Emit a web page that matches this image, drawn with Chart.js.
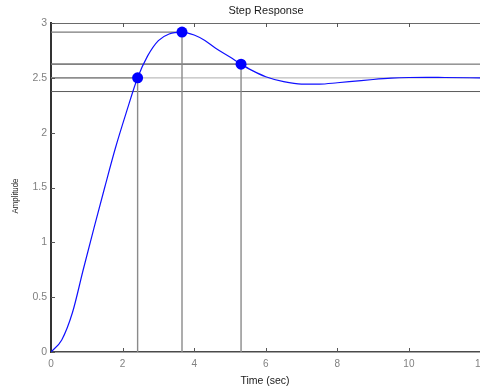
<!DOCTYPE html>
<html>
<head>
<meta charset="utf-8">
<script src="https://cdn.jsdelivr.net/npm/chart.js@4/dist/chart.umd.min.js"></script>
<style>
  html,body{margin:0;padding:0;background:#fff;overflow:hidden}
  canvas{display:block}
</style>
</head>
<body>
<canvas id="mychart" width="486" height="388"></canvas>
<script>
// step response
var time      = [0, 0.3, 0.6, 0.9, 1.2, 1.5, 1.8, 2.1, 2.42, 2.7, 3.0, 3.3, 3.66, 4.0, 4.3, 4.6, 5.0, 5.31, 5.6, 6.0, 6.5, 7.0, 7.5, 8.0, 8.5, 9.0, 9.5, 10.0, 10.5, 11.0, 12.0]
var amplitude = [0, 0.11, 0.36, 0.75, 1.13, 1.50, 1.86, 2.18, 2.50, 2.70, 2.84, 2.90, 2.917, 2.89, 2.84, 2.77, 2.69, 2.625, 2.57, 2.51, 2.465, 2.443, 2.443, 2.455, 2.47, 2.485, 2.497, 2.503, 2.505, 2.503, 2.50]

// rise time, peak, settling markers
var markerTime = [2.42, 3.66, 5.31]
var markerAmp  = [2.5, 2.917, 2.625]

var finalValue = 2.5
var bandUpper  = 2.625
var bandLower  = 2.375

var xTicks = [0, 2, 4, 6, 8, 10, 12]
var yTicks = [0, 0.5, 1, 1.5, 2, 2.5, 3]

var FONT = '"Liberation Sans", Arial, sans-serif'

var curve = []
for (var i = 0; i < time.length; i++) curve.push({x: time[i], y: amplitude[i]})

var markers = []
for (var i = 0; i < markerTime.length; i++) markers.push({x: markerTime[i], y: markerAmp[i]})

function seg(x1, y1, x2, y2, color, width, order){
  return {
    data: [{x: x1, y: y1}, {x: x2, y: y2}],
    showLine: true, borderColor: color, borderWidth: width,
    pointRadius: 0, order: order
  }
}

var datasets = [
  {data: markers, showLine: false, pointRadius: 5.5, pointHoverRadius: 5.5,
   backgroundColor: '#0000ff', borderColor: '#0000ff', borderWidth: 0, order: 0},
  {data: curve, showLine: true, borderColor: '#1010ff', borderWidth: 1.2,
   pointRadius: 0, cubicInterpolationMode: 'monotone', order: 1},
  seg(0, finalValue, 12, finalValue, '#bdbdbd', 1.3, 5),
  seg(0, bandUpper, 12, bandUpper, '#5a5a5a', 1, 4),
  seg(0, bandLower, 12, bandLower, '#5a5a5a', 1, 4)
]
for (var i = 0; i < markerTime.length; i++) {
  datasets.push(seg(0, markerAmp[i], markerTime[i], markerAmp[i], '#7a7a7a', 1.2, 3))
  datasets.push(seg(markerTime[i], 0, markerTime[i], markerAmp[i], '#8a8a8a', 1.4, 3))
}

var decor = {
  id: 'decor',
  afterDraw: function(chart){
    var ctx = chart.ctx, a = chart.chartArea
    var xs = chart.scales.x, ys = chart.scales.y
    ctx.save()
    // top border
    ctx.strokeStyle = '#6a6a6a'; ctx.lineWidth = 1
    ctx.beginPath(); ctx.moveTo(a.left, a.top + 0.5); ctx.lineTo(a.right, a.top + 0.5); ctx.stroke()
    // inward ticks
    ctx.strokeStyle = '#555'
    ctx.beginPath()
    xTicks.forEach(function(v){
      if (v === 0 || v === 12) return
      var px = Math.round(xs.getPixelForValue(v)) + 0.5
      ctx.moveTo(px, a.bottom); ctx.lineTo(px, a.bottom - 4)
      ctx.moveTo(px, a.top); ctx.lineTo(px, a.top + 4)
    })
    yTicks.forEach(function(v){
      var py = Math.round(ys.getPixelForValue(v)) + 0.5
      ctx.moveTo(a.left, py); ctx.lineTo(a.left + 4, py)
    })
    ctx.stroke()
    // texts
    ctx.fillStyle = '#1a1a1a'
    ctx.textAlign = 'center'; ctx.textBaseline = 'middle'
    ctx.font = '11px ' + FONT
    ctx.fillText('Step Response', 266, 11)
    ctx.font = '10.5px ' + FONT
    ctx.fillText('Time (sec)', 265, 381)
    ctx.translate(16, 196); ctx.rotate(-Math.PI / 2); ctx.scale(0.87, 1)
    ctx.font = '9px ' + FONT
    ctx.fillText('Amplitude', 0, 0)
    ctx.restore()
  }
}

var chart = new Chart(document.getElementById('mychart').getContext('2d'), {
  type: 'scatter',
  data: {datasets: datasets},
  options: {
    responsive: false,
    animation: false,
    events: [],
    layout: {padding: {top: 23, right: 3, left: 0, bottom: 0}},
    plugins: {legend: {display: false}, tooltip: {enabled: false}, title: {display: false}},
    scales: {
      x: {
        type: 'linear', min: 0, max: 12,
        afterBuildTicks: function(s){ s.ticks = xTicks.map(function(v){ return {value: v} }) },
        afterFit: function(s){ s.height = 36; s.paddingLeft = 0; s.paddingRight = 0 },
        ticks: {color: '#808080', font: {family: FONT, size: 10}, padding: 6, maxRotation: 0,
                callback: function(v){ return String(v) }},
        grid: {display: true, drawOnChartArea: false, drawTicks: false},
        border: {display: true, color: '#4a4a4a', width: 1.5}
      },
      y: {
        type: 'linear', min: 0, max: 3,
        afterBuildTicks: function(s){ s.ticks = yTicks.map(function(v){ return {value: v} }) },
        afterFit: function(s){ s.width = 51; s.paddingTop = 0; s.paddingBottom = 0 },
        ticks: {color: '#808080', font: {family: FONT, size: 10.5}, padding: 4,
                callback: function(v){ return String(v) }},
        grid: {display: true, drawOnChartArea: false, drawTicks: false},
        border: {display: true, color: '#333', width: 2}
      }
    }
  },
  plugins: [decor]
})
</script>
</body>
</html>
